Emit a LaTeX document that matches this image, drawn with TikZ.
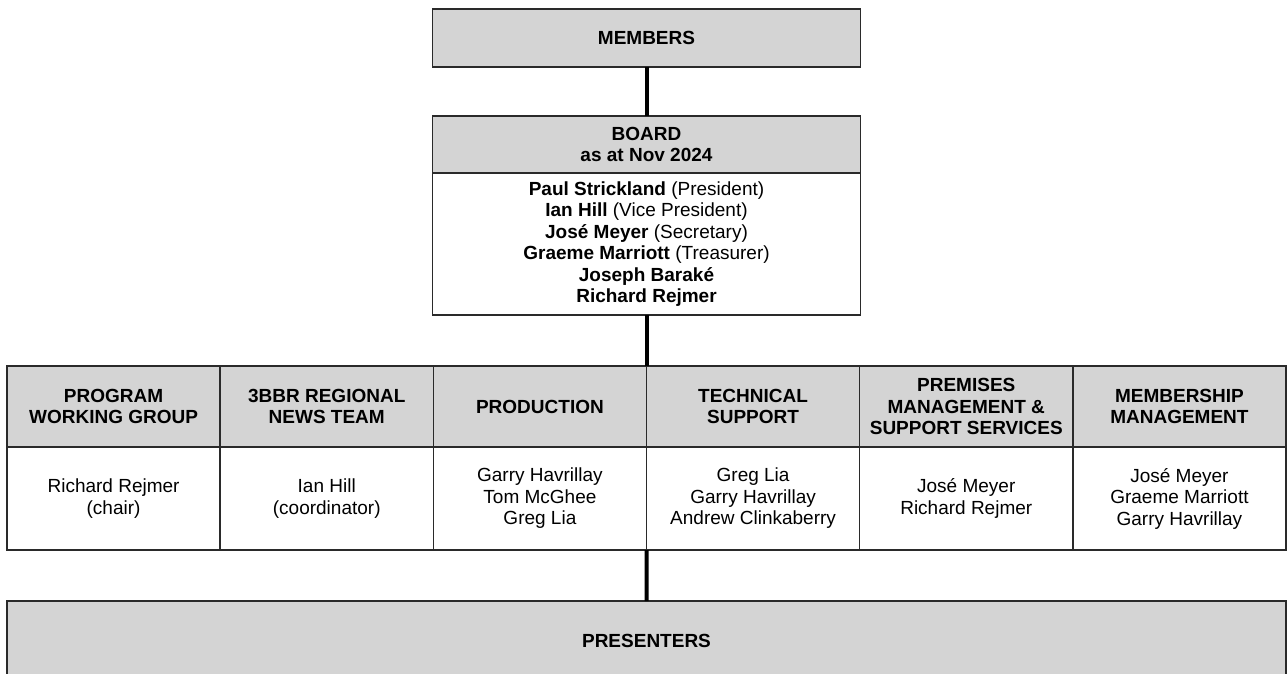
\documentclass[tikz,border=0pt]{standalone}
\usepackage{fontspec}
\setmainfont{Liberation Sans}
\definecolor{boxgray}{HTML}{D4D4D4}
\definecolor{edge}{HTML}{2A2A2A}
\tikzset{
  x=1pt, y=-1pt,
  base/.style={draw=edge, line width=1.6pt, inner sep=0pt, outer sep=0pt, align=center,
    font=\fontsize{19}{21.5}\selectfont},
  headbox/.style={base, fill=boxgray, font=\fontsize{19}{21.5}\selectfont\bfseries},
  bodybox/.style={base, fill=white},
  link/.style={line width=4pt, black},
}
\begin{document}
\begin{tikzpicture}
\clip (0,0) rectangle (1287,673);
\fill[white] (0,0) rectangle (1287,673);
% top
\node[headbox, minimum width=428pt, minimum height=58pt] (members) at (646.5,38) {MEMBERS};
\node[headbox, minimum width=428pt, minimum height=57pt] (boardhead) at (646.5,144.5) {BOARD\\as at Nov 2024};
\node[bodybox, minimum width=428pt, minimum height=142pt] (boardbody) at (646.5,244)
 {\textbf{Paul Strickland} (President)\\\textbf{Ian Hill} (Vice President)\\\textbf{José Meyer} (Secretary)\\\textbf{Graeme Marriott} (Treasurer)\\\textbf{Joseph Baraké}\\\textbf{Richard Rejmer}};
% table
\foreach \i/\h/\b in {
  0/{PROGRAM\\WORKING GROUP}/{Richard Rejmer\\(chair)},
  1/{3BBR REGIONAL\\NEWS TEAM}/{Ian Hill\\(coordinator)},
  2/{PRODUCTION}/{Garry Havrillay\\Tom McGhee\\Greg Lia},
  3/{TECHNICAL\\SUPPORT}/{Greg Lia\\Garry Havrillay\\Andrew Clinkaberry},
  4/{PREMISES\\MANAGEMENT \&\\SUPPORT SERVICES}/{José Meyer\\Richard Rejmer},
  5/{MEMBERSHIP\\MANAGEMENT}/{José Meyer\\Graeme Marriott\\Garry Havrillay}} {
  \node[headbox, minimum width=213.17pt, minimum height=81pt] (head\i) at ({7+213.17*\i+106.58},406.5) {\h};
  \node[bodybox, minimum width=213.17pt, minimum height=103pt] (body\i) at ({7+213.17*\i+106.58},498.5) {\b};
}
\node[headbox, minimum width=1279pt, minimum height=80pt] (presenters) at (646.5,641) {PRESENTERS};
% connectors
\draw[link] (members.south) -- (boardhead.north);
\draw[link] (boardbody.south) -- (boardbody.south |- head2.north);
\draw[link] (body2.south east) -- (presenters.north);
\end{tikzpicture}
\end{document}
